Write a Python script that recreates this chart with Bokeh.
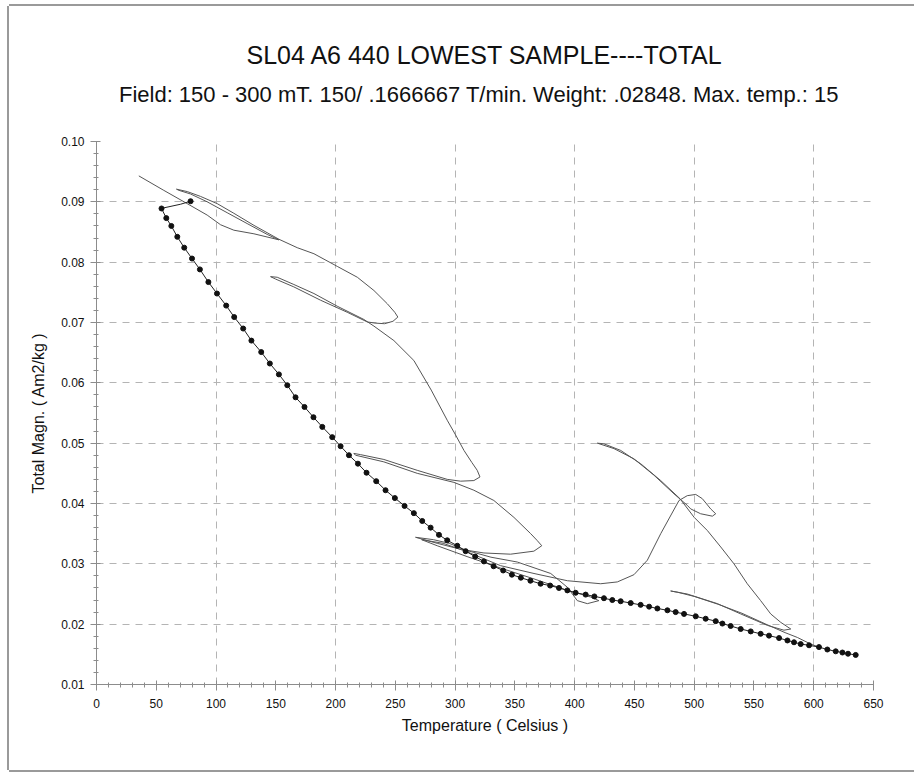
from bokeh.plotting import figure
from bokeh.models import FixedTicker, PrintfTickFormatter, Title
from bokeh.embed import file_html
from bokeh.resources import INLINE

title_text = "SL04 A6 440 LOWEST SAMPLE----TOTAL"
subtitle_text = "Field: 150 - 300 mT. 150/ .1666667 T/min. Weight:  .02848. Max. temp.:  15"
x_label = "Temperature ( Celsius )"
y_label = "Total Magn. ( Am2/kg )"

x_major = [0, 50, 100, 150, 200, 250, 300, 350, 400, 450, 500, 550, 600, 650]
x_minor = [t for t in range(0, 651, 10)]
x_grid = [100, 200, 300, 400, 500, 600]
y_major = [0.01, 0.02, 0.03, 0.04, 0.05, 0.06, 0.07, 0.08, 0.09, 0.10]
y_minor = [round(0.01 + 0.002 * i, 4) for i in range(46)]
y_grid = [0.02, 0.03, 0.04, 0.05, 0.06, 0.07, 0.08, 0.09, 0.10]

# thin trace of the heating / cooling cycles (in order)
thin_T = [35.4, 56.3, 75.9, 92.6, 103.8, 114.9, 131.7, 152.6,
          142.8, 126.0, 109.3, 92.6, 78.7, 69.0, 66.9,
          75.9, 87.0, 101.0, 114.9, 131.7, 152.6,
          167.9, 181.9, 201.4, 218.2, 232.1, 243.3, 249.5, 252.1,
          248.0, 241.0, 233.0, 226.4,
          209.7, 187.4, 165.1, 149.8, 145.6,
          151.2, 165.1, 181.9, 201.4, 223.7,
          232.1, 248.8, 265.5, 280.0, 293.4, 300.0, 307.4, 314.0, 318.5, 320.8,
          315.7, 304.6, 293.4,
          268.3, 240.4, 220.9, 215.3,
          216.7, 240.4, 268.3, 299.0, 315.7, 332.4, 349.2, 363.2, 368.5, 372.5,
          365.9, 346.4, 324.1, 305.0, 285.0, 266.9,
          282.0, 295.0, 310.0, 330.0, 352.0, 380.0, 394.0, 402.2, 410.6, 420.3,
          413.4, 394.0, 366.0, 338.0, 310.0, 285.0, 272.0,
          290.0, 310.0, 338.0, 366.0, 393.9, 421.8, 435.7, 449.6, 460.8, 472.0,
          487.3, 494.2, 501.3, 506.8, 513.8, 518.0,
          515.2, 505.4, 497.1, 494.2, 483.1, 466.3, 449.6, 432.9, 419.0,
          424.4, 438.5, 455.2, 472.0, 488.1, 500.0, 511.1, 522.2, 533.3, 544.4,
          555.6, 564.0, 572.4, 580.8,
          575.1, 561.2, 538.9, 519.4, 494.2, 480.3,
          486.0, 500.0, 520.0, 540.0, 560.0, 576.0, 586.3, 597.5, 604.4]
thin_v = [0.0943, 0.0919, 0.0897, 0.0878, 0.0862, 0.0853, 0.0847, 0.0837,
          0.0846, 0.0864, 0.0882, 0.0900, 0.0913, 0.0919, 0.0921,
          0.0917, 0.0909, 0.0897, 0.0881, 0.0861, 0.0838,
          0.0824, 0.0814, 0.0793, 0.0775, 0.0753, 0.0731, 0.0717, 0.0709,
          0.0702, 0.0698, 0.0699, 0.0701,
          0.0717, 0.0737, 0.0759, 0.0772, 0.0776,
          0.0775, 0.0763, 0.0748, 0.0727, 0.0705,
          0.0694, 0.0670, 0.0637, 0.0588, 0.0538, 0.0515, 0.0488, 0.0468, 0.0455, 0.0444,
          0.0438, 0.0437, 0.0440,
          0.0455, 0.0473, 0.0481, 0.0483,
          0.0480, 0.0469, 0.0450, 0.0435, 0.0422, 0.0405, 0.0377, 0.0350, 0.0339, 0.0330,
          0.0321, 0.0316, 0.0318, 0.0324, 0.0334, 0.0344,
          0.0340, 0.0334, 0.0322, 0.0311, 0.0303, 0.0284, 0.0261, 0.0239, 0.0234, 0.0239,
          0.0245, 0.0256, 0.0275, 0.0293, 0.0312, 0.0330, 0.0340,
          0.0334, 0.0320, 0.0297, 0.0284, 0.0272, 0.0267, 0.0270, 0.0282, 0.0306, 0.0350,
          0.0405, 0.0413, 0.0415, 0.0408, 0.0391, 0.0383,
          0.0379, 0.0383, 0.0391, 0.0397, 0.0416, 0.0447, 0.0474, 0.0491, 0.0500,
          0.0499, 0.0488, 0.0466, 0.0438, 0.0408, 0.0377, 0.0355, 0.0328, 0.0300, 0.0267,
          0.0239, 0.0217, 0.0203, 0.0192,
          0.0190, 0.0198, 0.0217, 0.0234, 0.0250, 0.0255,
          0.0253, 0.0246, 0.0233, 0.0218, 0.0200, 0.0186, 0.0178, 0.0167, 0.0162]

# dotted trace (line through measured points), with its short lead-in
lead_T = [78.7, 70.3, 56.3]
lead_v = [0.0901, 0.0896, 0.0890]
dot_T = [54.4, 58.4, 62.6, 67.6, 73.4, 79.9, 86.5, 93.6, 100.8, 108.5, 115.2, 122.7,
         129.6, 137.8, 145.0, 152.6, 159.6, 166.5, 174.0, 181.5, 188.9, 197.2, 204.2,
         211.2, 218.7, 225.9, 234.0, 241.8, 249.6, 257.7, 265.5, 272.5, 279.5, 286.5,
         293.4, 301.8, 308.8, 316.8, 324.1, 332.2, 340.2, 347.5, 355.0, 363.0, 371.5,
         379.5, 386.9, 393.9, 400.8, 409.2, 416.5, 424.5, 431.5, 438.5, 446.9, 455.2,
         462.3, 469.2, 477.6, 484.5, 491.5, 501.3, 509.6, 518.0, 523.6, 530.5, 538.9,
         547.3, 555.6, 562.6, 571.0, 578.0, 583.5, 589.1, 596.1, 604.4, 611.4, 618.4,
         624.0, 628.7, 635.1]
dot_v = [0.0889, 0.0873, 0.0860, 0.0842, 0.0824, 0.0806, 0.0788, 0.0767, 0.0748, 0.0728,
         0.0709, 0.0690, 0.0670, 0.0651, 0.0632, 0.0614, 0.0596, 0.0576, 0.0560, 0.0543,
         0.0527, 0.0510, 0.0495, 0.0480, 0.0466, 0.0451, 0.0437, 0.0422, 0.0409, 0.0396,
         0.0384, 0.0371, 0.0360, 0.0348, 0.0339, 0.0330, 0.0321, 0.0312, 0.0304, 0.0296,
         0.0289, 0.0282, 0.0277, 0.0272, 0.0267, 0.0264, 0.0260, 0.0256, 0.0252, 0.0249,
         0.0246, 0.0243, 0.0240, 0.0238, 0.0235, 0.0232, 0.0229, 0.0226, 0.0223, 0.0220,
         0.0217, 0.0213, 0.0209, 0.0205, 0.0201, 0.0197, 0.0192, 0.0188, 0.0184, 0.0181,
         0.0177, 0.0173, 0.0170, 0.0167, 0.0165, 0.0162, 0.0158, 0.0155, 0.0153, 0.0151,
         0.0149]
end_T = [637.0]
end_v = [0.0148]

FONT = "Liberation Sans"

p = figure(width=905, height=764, x_range=(0, 650), y_range=(0.01, 0.10),
           output_backend="svg", toolbar_location=None,
           min_border_left=87, min_border_right=41, min_border_top=135, min_border_bottom=86)
p.styles = {"margin-left": "9px", "margin-top": "6px",
            "box-shadow": "-2px 0px 0px 0px #9a9a9a, 0px -2px 0px 0px #9a9a9a, 0px 2px 0px 0px #9a9a9a"}
p.outline_line_color = None
p.background_fill_color = "white"
p.border_fill_color = "white"

# titles (first added sits nearest the plot): blank spacer, subtitle, title
p.add_layout(Title(text=" ", align="center", text_font=FONT, text_font_size="1px",
                   standoff=32), "above")
p.add_layout(Title(text=subtitle_text, align="center", text_font=FONT,
                   text_font_size="22px", text_font_style="normal",
                   text_color="#111111", standoff=0), "above")
p.add_layout(Title(text=title_text, align="center", text_font=FONT,
                   text_font_size="25px", text_font_style="normal",
                   text_color="#111111", standoff=21), "above")

# axes
p.xaxis.ticker = FixedTicker(ticks=x_major, minor_ticks=x_minor)
p.yaxis.ticker = FixedTicker(ticks=y_major, minor_ticks=y_minor)
p.yaxis.formatter = PrintfTickFormatter(format="%.2f")
for ax in (p.xaxis[0], p.yaxis[0]):
    ax.axis_line_color = "#8c8c8c"
    ax.major_tick_line_color = "#8c8c8c"
    ax.minor_tick_line_color = "#8c8c8c"
    ax.major_tick_in = 4
    ax.major_tick_out = 6
    ax.minor_tick_in = 2
    ax.minor_tick_out = 3
    ax.major_label_text_font = FONT
    ax.major_label_text_font_size = "12px"
    ax.major_label_text_color = "#111111"
    ax.axis_label_text_font = FONT
    ax.axis_label_text_font_style = "normal"
    ax.axis_label_text_font_size = "16px"
    ax.axis_label_text_color = "#111111"
p.xaxis.axis_label = x_label
p.yaxis.axis_label = y_label
p.xaxis.major_label_standoff = 8
p.xaxis.axis_label_standoff = 6
p.yaxis.major_label_standoff = 6
p.yaxis.axis_label_standoff = 11

# grid
p.xgrid.ticker = FixedTicker(ticks=x_grid)
p.ygrid.ticker = FixedTicker(ticks=y_grid)
for g in (p.xgrid[0], p.ygrid[0]):
    g.grid_line_color = "#b4b4b4"
    g.grid_line_dash = "7 6"
    g.grid_line_width = 1

# data
p.line(thin_T, thin_v, line_color="#555555", line_width=1)
p.line(lead_T + dot_T + end_T, lead_v + dot_v + end_v, line_color="#222222", line_width=1)
p.scatter([lead_T[0]] + dot_T, [lead_v[0]] + dot_v, size=5, color="#111111")

open("out.html", "w").write(file_html(p, INLINE))
